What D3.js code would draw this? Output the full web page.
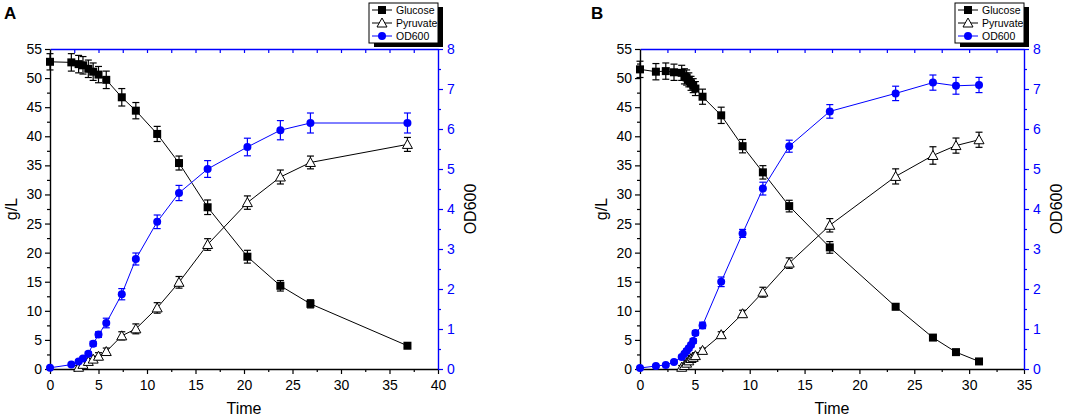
<!DOCTYPE html>
<html>
<head>
<meta charset="utf-8">
<title>Glucose / Pyruvate / OD600</title>
<script src="https://cdn.jsdelivr.net/npm/d3@7"></script>
<style>
  body { margin: 0; background: #fff; }
  svg { display: block; }
</style>
</head>
<body>
<div id="chart"></div>
<script>
// ---- data ----
var seriesNames = ["Glucose", "Pyruvate", "OD600"];

// panel A
var timeA = [0, 2.2, 2.95, 3.4, 3.95, 4.45, 5.0, 5.8, 7.4, 8.85, 11.05, 13.3, 16.25, 20.35, 23.75, 26.85, 36.85];
var glucoseA = [52.8, 52.7, 52.4, 52.2, 51.6, 51.1, 50.6, 49.7, 46.7, 44.4, 40.4, 35.4, 27.8, 19.3, 14.3, 11.2, 4.0];
var glucoseErrA = [1.4, 1.5, 1.5, 1.5, 1.5, 1.5, 1.4, 1.5, 1.5, 1.4, 1.3, 1.2, 1.25, 1.1, 0.9, 0.7, 0.3];
var pyruvateA = [null, null, 0.3, 0.8, 1.3, 1.7, 2.2, 3.0, 5.7, 6.9, 10.5, 14.9, 21.4, 28.6, 33.0, 35.5, 38.6];
var pyruvateErrA = [0, 0, 0.3, 0.4, 0.5, 0.5, 0.6, 0.6, 0.7, 0.85, 0.9, 1.0, 1.0, 1.15, 1.2, 1.1, 1.2];
var odA = [0.03, 0.11, 0.19, 0.26, 0.38, 0.63, 0.86, 1.15, 1.87, 2.75, 3.68, 4.40, 5.0, 5.55, 5.97, 6.15, 6.15];
var odErrA = [0.02, 0.03, 0.04, 0.04, 0.05, 0.06, 0.07, 0.12, 0.14, 0.15, 0.17, 0.19, 0.21, 0.22, 0.24, 0.25, 0.25];

// panel B
var timeB = [0, 1.45, 2.35, 3.1, 3.8, 4.05, 4.25, 4.45, 4.65, 4.85, 5.05, 5.7, 7.4, 9.35, 11.2, 13.6, 17.3, 23.3, 26.7, 28.8, 30.9];
var glucoseB = [51.5, 51.1, 51.2, 51.0, 50.9, 50.3, 50.1, 49.7, 49.1, 48.7, 48.2, 46.8, 43.6, 38.3, 33.8, 28.0, 20.9, 10.7, 5.4, 2.9, 1.3];
var glucoseErrB = [1.4, 1.4, 1.4, 1.4, 1.3, 1.3, 1.3, 1.2, 1.2, 1.2, 1.2, 1.3, 1.4, 1.15, 1.15, 1.0, 1.0, 0.5, 0.3, 0.3, 0.3];
var pyruvateB = [null, null, null, null, 0.3, 0.6, 1.0, 1.4, 1.8, 2.0, 2.3, 3.2, 5.9, 9.5, 13.2, 18.2, 24.7, 33.1, 36.7, 38.4, 39.4];
var pyruvateErrB = [0, 0, 0, 0, 0.3, 0.4, 0.5, 0.5, 0.5, 0.5, 0.5, 0.4, 0.5, 0.6, 0.85, 0.9, 1.15, 1.3, 1.5, 1.3, 1.3];
var odB = [0.025, 0.075, 0.10, 0.175, 0.30, 0.38, 0.45, 0.52, 0.60, 0.70, 0.90, 1.09, 2.18, 3.39, 4.51, 5.57, 6.44, 6.89, 7.16, 7.08, 7.10];
var odErrB = [0.02, 0.02, 0.02, 0.03, 0.04, 0.04, 0.05, 0.05, 0.05, 0.06, 0.06, 0.08, 0.12, 0.1, 0.16, 0.15, 0.17, 0.18, 0.19, 0.21, 0.19];

// tick labels
var timeTicksA = [0, 5, 10, 15, 20, 25, 30, 35, 40];
var timeTicksB = [0, 5, 10, 15, 20, 25, 30, 35];
var glTicks = [0, 5, 10, 15, 20, 25, 30, 35, 40, 45, 50, 55];
var odTicks = [0, 1, 2, 3, 4, 5, 6, 7, 8];

// ---- drawing ----
var W = 1084, H = 418;
var plotTop = 49, plotBottom = 369;
var blue = "#0000ff";
var font = "Arial, 'Liberation Sans', Helvetica, sans-serif";

var svg = d3.select("#chart").append("svg")
  .attr("width", W).attr("height", H)
  .style("background", "#fff");

function halves(ticks) {
  // minor ticks between the majors
  var out = [];
  for (var i = 0; i < ticks.length - 1; i++) out.push((ticks[i] + ticks[i + 1]) / 2);
  return out;
}

function drawMarker(sel, shape, cx, cy, color) {
  if (shape === "square") {
    sel.append("rect").attr("x", cx - 4).attr("y", cy - 4).attr("width", 8).attr("height", 8).attr("fill", color);
  } else if (shape === "triangle") {
    sel.append("path").attr("d", "M" + cx + "," + (cy - 5) + "L" + (cx + 5) + "," + (cy + 4) + "L" + (cx - 5) + "," + (cy + 4) + "Z")
      .attr("fill", "#fff").attr("stroke", color).attr("stroke-width", 1);
  } else {
    sel.append("circle").attr("cx", cx).attr("cy", cy).attr("r", 4).attr("fill", color);
  }
}

function drawPanel(p) {
  var g = svg.append("g");
  var xMax = p.timeTicks[p.timeTicks.length - 1];

  var x = d3.scaleLinear().domain([0, xMax]).range([p.left, p.right]);
  var y = d3.scaleLinear().domain([0, 55]).range([plotBottom, plotTop]);
  var yOd = d3.scaleLinear().domain([0, 8]).range([plotBottom, plotTop]);

  function styleAxis(a, color) {
    a.attr("font-family", font).attr("font-size", 14).attr("color", color);
    a.select(".domain").attr("stroke-width", 1.4);
    a.selectAll(".tick line").attr("stroke-width", 1.2);
  }

  // bottom
  var ax = g.append("g").attr("transform", "translate(0," + plotBottom + ")")
    .call(d3.axisBottom(x).tickValues(p.timeTicks).tickSizeInner(5).tickSizeOuter(0).tickPadding(6));
  styleAxis(ax, "#000");
  var axm = g.append("g").attr("transform", "translate(0," + plotBottom + ")")
    .call(d3.axisBottom(x).tickValues(halves(p.timeTicks)).tickSize(3).tickFormat(""));
  axm.select(".domain").remove();
  styleAxis(axm, "#000");

  // top (blue, ticks inward)
  var allX = p.timeTicks.concat(halves(p.timeTicks)).filter(function(v){ return v > 0 && v < xMax; });
  var at = g.append("g").attr("transform", "translate(0," + plotTop + ")")
    .call(d3.axisTop(x).tickValues(allX).tickSize(-4).tickSizeOuter(0).tickFormat(""));
  styleAxis(at, blue);

  // left
  var ay = g.append("g").attr("transform", "translate(" + p.left + ",0)")
    .call(d3.axisLeft(y).tickValues(glTicks).tickSizeInner(5).tickSizeOuter(0).tickPadding(3));
  styleAxis(ay, "#000");
  var aym = g.append("g").attr("transform", "translate(" + p.left + ",0)")
    .call(d3.axisLeft(y).tickValues(halves(glTicks)).tickSize(3).tickFormat(""));
  aym.select(".domain").remove();
  styleAxis(aym, "#000");

  // right (blue)
  var ar = g.append("g").attr("transform", "translate(" + p.right + ",0)")
    .call(d3.axisRight(yOd).tickValues(odTicks).tickSizeInner(5).tickSizeOuter(0).tickPadding(4));
  styleAxis(ar, blue);
  var arm = g.append("g").attr("transform", "translate(" + p.right + ",0)")
    .call(d3.axisRight(yOd).tickValues(halves(odTicks)).tickSize(3).tickFormat(""));
  arm.select(".domain").remove();
  styleAxis(arm, blue);

  // axis titles
  var midY = (plotTop + plotBottom) / 2;
  g.append("text").attr("transform", "translate(" + (p.left - 33) + "," + midY + ") rotate(-90)")
    .attr("text-anchor", "middle").attr("font-family", font).attr("font-size", 16).text("g/L");
  g.append("text").attr("transform", "translate(" + (p.right + 38) + "," + midY + ") rotate(-90)")
    .attr("text-anchor", "middle").attr("font-family", font).attr("font-size", 16).text("OD600");
  g.append("text").attr("x", (p.left + p.right) / 2).attr("y", 414)
    .attr("text-anchor", "middle").attr("font-family", font).attr("font-size", 16).text("Time");
  g.append("text").attr("x", p.letterX).attr("y", 19)
    .attr("font-family", font).attr("font-size", 17).attr("font-weight", "bold").text(p.letter);

  var series = [
    { vals: p.glucose, err: p.glucoseErr, ys: y, color: "#000", shape: "square" },
    { vals: p.pyruvate, err: p.pyruvateErr, ys: y, color: "#000", shape: "triangle" },
    { vals: p.od, err: p.odErr, ys: yOd, color: blue, shape: "circle" }
  ];

  series.forEach(function(s) {
    var pts = p.time.map(function(t, i) { return { t: t, v: s.vals[i], e: s.err[i] }; })
      .filter(function(d) { return d.v !== null; });

    var line = d3.line().x(function(d){ return x(d.t); }).y(function(d){ return s.ys(d.v); });
    g.append("path").datum(pts).attr("d", line)
      .attr("fill", "none").attr("stroke", s.color).attr("stroke-width", 1);

    var eb = g.append("g").attr("stroke", s.color).attr("stroke-width", 1.2);
    pts.forEach(function(d) {
      if (!d.e) return;
      var cx = x(d.t), y1 = s.ys(d.v + d.e), y2 = s.ys(Math.max(0, d.v - d.e));
      eb.append("line").attr("x1", cx).attr("x2", cx).attr("y1", y1).attr("y2", y2);
      eb.append("line").attr("x1", cx - 3.5).attr("x2", cx + 3.5).attr("y1", y1).attr("y2", y1);
      eb.append("line").attr("x1", cx - 3.5).attr("x2", cx + 3.5).attr("y1", y2).attr("y2", y2);
    });

    var mk = g.append("g");
    pts.forEach(function(d) {
      drawMarker(mk, s.shape, x(d.t), s.ys(d.v), s.color);
    });
  });

  // legend
  var lw = 69, lh = 40, lx = p.right - lw, ly = 3;
  g.append("rect").attr("x", lx + 5).attr("y", ly + 4).attr("width", lw).attr("height", lh).attr("fill", "#000");
  g.append("rect").attr("x", lx).attr("y", ly).attr("width", lw).attr("height", lh)
    .attr("fill", "#fff").attr("stroke", "#000").attr("stroke-width", 1);
  var shapes = ["square", "triangle", "circle"];
  var colors = ["#000", "#000", blue];
  seriesNames.forEach(function(name, i) {
    var ry = ly + 7 + i * 13;
    g.append("line").attr("x1", lx + 3).attr("x2", lx + 23).attr("y1", ry).attr("y2", ry)
      .attr("stroke", colors[i]).attr("stroke-width", 1);
    drawMarker(g, shapes[i], lx + 13, ry, colors[i]);
    g.append("text").attr("x", lx + 27).attr("y", ry + 4)
      .attr("font-family", font).attr("font-size", 10.5).text(name);
  });
}

drawPanel({
  letter: "A", letterX: 4, left: 50, right: 438, timeTicks: timeTicksA,
  time: timeA, glucose: glucoseA, glucoseErr: glucoseErrA,
  pyruvate: pyruvateA, pyruvateErr: pyruvateErrA, od: odA, odErr: odErrA
});
drawPanel({
  letter: "B", letterX: 591, left: 640, right: 1024, timeTicks: timeTicksB,
  time: timeB, glucose: glucoseB, glucoseErr: glucoseErrB,
  pyruvate: pyruvateB, pyruvateErr: pyruvateErrB, od: odB, odErr: odErrB
});
</script>
</body>
</html>
